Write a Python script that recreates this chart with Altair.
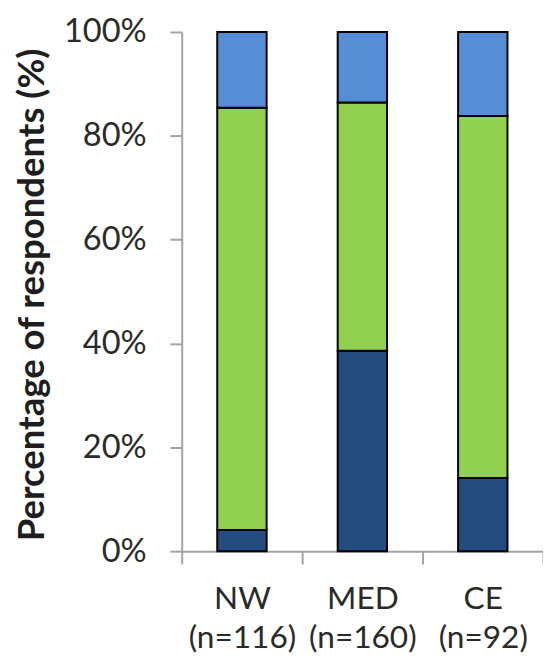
import altair as alt
import pandas as pd

categories = ["NW", "MED", "CE"]
sample_sizes = [116, 160, 92]
series_names = ["Dark", "Green", "Light"]
dark_vals = [4.1, 38.6, 14.1]
green_vals = [81.3, 47.8, 69.7]
light_vals = [14.6, 13.6, 16.2]
series_colors = ["#244C7E", "#92D050", "#558ED5"]
y_ticks = [0, 20, 40, 60, 80, 100]

rows = []
for i, c in enumerate(categories):
    label = f"{c}\n(n={sample_sizes[i]})"
    for k, (name, vals) in enumerate(zip(series_names, [dark_vals, green_vals, light_vals])):
        rows.append({"cat": label, "series": name, "value": vals[i], "order": k})
df = pd.DataFrame(rows)
cat_order = [f"{c}\n(n={n})" for c, n in zip(categories, sample_sizes)]

axis_gray = "#A3A3A3"
text_color = "#2A2A2A"

chart = alt.Chart(df).mark_bar(
    stroke="black", strokeWidth=2, width=alt.RelativeBandSize(0.41)
).encode(
    x=alt.X("cat:N", sort=cat_order,
            scale=alt.Scale(paddingInner=0, paddingOuter=0),
            axis=alt.Axis(title=None, labelAngle=0, tickBand="extent", ticks=True,
                          labelExpr="isValid(datum.value) ? split(datum.value, '\\n') : ''",
                          labelFont="Lato", labelFontSize=32, labelLineHeight=40,
                          labelColor=text_color, labelPadding=20,
                          domainColor=axis_gray, domainWidth=2,
                          tickColor=axis_gray, tickWidth=2, tickSize=13)),
    y=alt.Y("value:Q", stack="zero",
            scale=alt.Scale(domain=[0, 100], nice=False),
            axis=alt.Axis(title="Percentage of respondents (%)", values=y_ticks,
                          labelExpr="datum.value + '%'",
                          labelFont="Lato", labelFontSize=33, labelColor=text_color,
                          labelPadding=24, tickSize=12, tickWidth=2, tickColor=axis_gray,
                          domainColor=axis_gray, domainWidth=2, grid=False,
                          titleFont="Lato", titleFontSize=37, titleFontWeight="bold",
                          titleColor="#1E1E1E", titleX=-140, titleY=266,
                          titleAngle=270, titleAlign="center",
                          titleBaseline="alphabetic")),
    color=alt.Color("series:N", sort=series_names,
                    scale=alt.Scale(domain=series_names, range=series_colors),
                    legend=None),
    order=alt.Order("order:Q"),
).properties(
    width=366, height=526,
    autosize=alt.AutoSizeParams(type="none"),
    padding={"left": 176, "top": 20, "right": 0, "bottom": 106},
).configure_view(stroke=None)

chart.save("out.html", embed_options={"renderer": "svg", "actions": False})
